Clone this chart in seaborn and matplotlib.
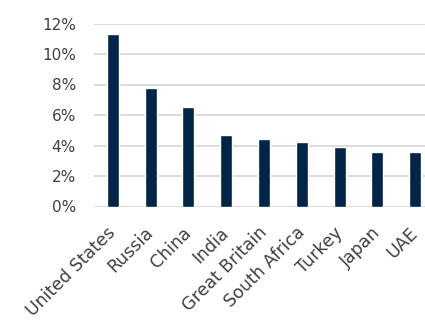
import matplotlib
matplotlib.use("Agg")
import matplotlib.pyplot as plt
import seaborn as sns
import pandas as pd
from matplotlib.ticker import FuncFormatter

countries = ["United States", "Russia", "China", "India", "Great Britain",
             "South Africa", "Turkey", "Japan", "UAE"]
shares = [11.3, 7.8, 6.5, 4.7, 4.4, 4.2, 3.9, 3.6, 3.6]
yticks = [0, 2, 4, 6, 8, 10, 12]

df = pd.DataFrame({"country": countries, "share": shares})

sns.set_theme(style="white")
plt.rcParams["font.family"] = ["DejaVu Sans"]

W, H = 425, 322
fig = plt.figure(figsize=(W / 100, H / 100), dpi=100)
left, right, top, bottom = 94, 434, 23.5, 206.5
ax = fig.add_axes([left / W, (H - bottom) / H, (right - left) / W, (bottom - top) / H])

sns.barplot(data=df, x="country", y="share", color="#002548", width=0.32,
            saturation=1, ax=ax, zorder=3)

ax.set_ylim(0, 12)
ax.set_xlim(-0.5, len(countries) - 0.5)
ax.set_yticks(yticks)
ax.yaxis.set_major_formatter(FuncFormatter(lambda v, _: f"{v:.0f}%"))
ax.grid(axis="y", color="#d9d9d9", linewidth=1.3, zorder=0)
ax.set_axisbelow(True)
for s in ax.spines.values():
    s.set_visible(False)
ax.set_xlabel("")
ax.set_ylabel("")
ax.tick_params(axis="y", length=0, pad=13, labelsize=11, labelcolor="#404040")
ax.tick_params(axis="x", length=0, pad=17, labelsize=12.5, labelcolor="#404040")
plt.setp(ax.get_xticklabels(), rotation=45, ha="right", va="center",
         rotation_mode="anchor")

fig.savefig("out.png", dpi=100)
